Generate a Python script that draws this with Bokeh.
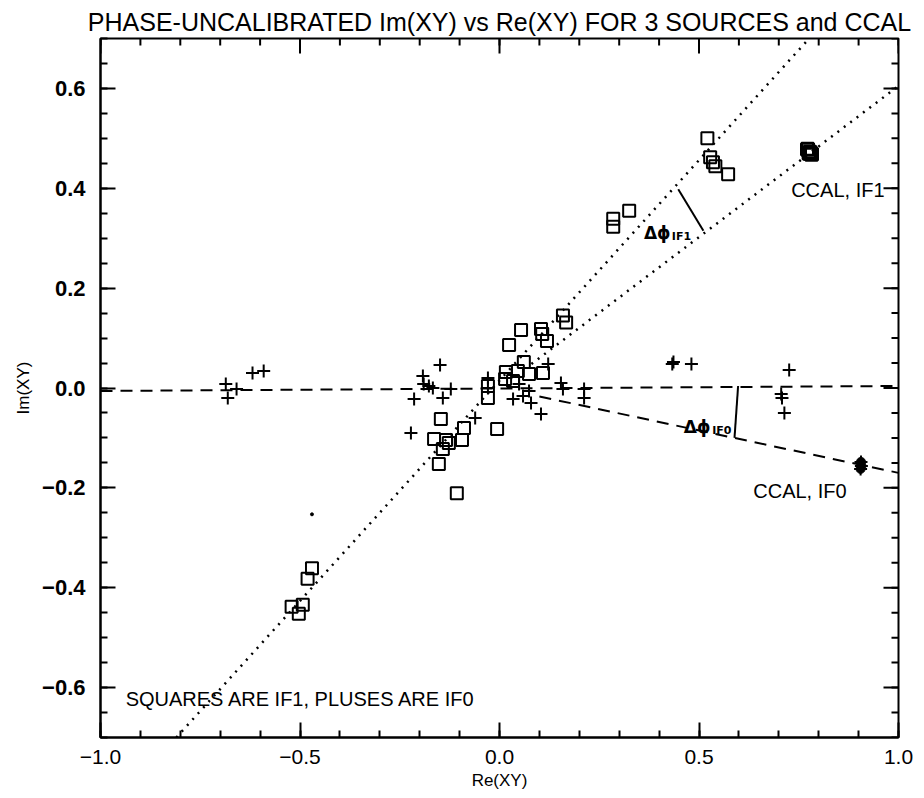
import math
from bokeh.plotting import figure
from bokeh.models import Range1d, FixedTicker, Label
from bokeh.embed import file_html
from bokeh.resources import INLINE

# ---------------- data ----------------
title_text = "PHASE-UNCALIBRATED Im(XY) vs Re(XY) FOR 3 SOURCES and CCAL"

x_major = [-1.0, -0.5, 0.0, 0.5, 1.0]
x_major_labels = ["\u22121.0", "\u22120.5", "0.0", "0.5", "1.0"]
x_minor = [-1.0, -0.9, -0.8, -0.7, -0.6, -0.5, -0.4, -0.3, -0.2, -0.1, 0.0,
           0.1, 0.2, 0.3, 0.4, 0.5, 0.6, 0.7, 0.8, 0.9, 1.0]
y_major = [-0.6, -0.4, -0.2, 0.0, 0.2, 0.4, 0.6]
y_major_labels = ["\u22120.6", "\u22120.4", "\u22120.2", "0.0", "0.2", "0.4", "0.6"]
y_minor = [-0.7, -0.65, -0.6, -0.55, -0.5, -0.45, -0.4, -0.35, -0.3, -0.25, -0.2,
           -0.15, -0.1, -0.05, 0.0, 0.05, 0.1, 0.15, 0.2, 0.25, 0.3, 0.35, 0.4,
           0.45, 0.5, 0.55, 0.6, 0.65, 0.7]

# squares = IF1 (sources)
sq_x = [0.521, 0.528, 0.535, 0.541, 0.573, 0.325, 0.285, 0.285,
        0.159, 0.167, 0.054, 0.104, 0.107, 0.119, 0.024, 0.061, 0.016, 0.046,
        0.074, 0.109, 0.034, 0.014, -0.029, -0.029, -0.147, -0.089, -0.006,
        -0.164, -0.134, -0.094, -0.142, -0.127, -0.152, -0.107,
        -0.470, -0.481, -0.521, -0.493, -0.503]
sq_y = [0.500, 0.462, 0.452, 0.444, 0.428, 0.355, 0.339, 0.323,
        0.145, 0.131, 0.116, 0.118, 0.108, 0.094, 0.086, 0.052, 0.032, 0.034,
        0.028, 0.030, 0.014, 0.018, 0.004, -0.020, -0.062, -0.080, -0.082,
        -0.102, -0.104, -0.104, -0.122, -0.110, -0.152, -0.211,
        -0.361, -0.382, -0.438, -0.434, -0.452]

# pluses = IF0 (sources)
pl_x = [-0.686, -0.681, -0.659, -0.619, -0.591,
        -0.149, -0.192, -0.190, -0.177, -0.167, -0.214, -0.142, -0.122, -0.222,
        -0.061, -0.029, -0.029, 0.034, 0.049, 0.059, 0.122, 0.074, 0.079, 0.104,
        0.154, 0.159, 0.212, 0.212,
        0.433, 0.436, 0.481, 0.726, 0.706, 0.708, 0.714]
pl_y = [0.008, -0.020, -0.002, 0.030, 0.034,
        0.046, 0.024, 0.008, 0.004, 0.000, -0.022, -0.020, -0.002, -0.090,
        -0.060, 0.020, 0.000, -0.022, 0.008, -0.016, 0.048, -0.006, -0.030, -0.052,
        0.010, -0.002, -0.002, -0.020,
        0.048, 0.052, 0.048, 0.036, -0.012, -0.020, -0.050]

# CCAL points
ccal1_x = [0.772, 0.778, 0.782, 0.776]
ccal1_y = [0.478, 0.472, 0.468, 0.470]
ccal0_x = [0.906, 0.907, 0.905]
ccal0_y = [-0.148, -0.156, -0.162]

stray_x = [-0.470]
stray_y = [-0.253]

# reference lines
if0_ref_x = [-1.0, 1.0]
if0_ref_y = [-0.006, 0.004]
if0_cal_x = [0.10, 1.0]
if0_cal_y = [-0.017, -0.170]
if1_ref_x = [-0.81, 0.776]
if1_ref_y = [-0.70, 0.70]
if1_cal_x = [0.08, 1.0]
if1_cal_y = [0.048, 0.605]
arc1_x = [0.448, 0.511]
arc1_y = [0.398, 0.315]
arc0_x = [0.598, 0.589]
arc0_y = [0.004, -0.100]

# ---------------- figure ----------------
FONT = "Liberation Sans"
XMIN, XMAX, YMIN, YMAX = -1.0, 1.0, -0.7, 0.7

p = figure(width=924, height=798, output_backend="svg", toolbar_location=None,
           x_range=Range1d(XMIN, XMAX), y_range=Range1d(YMIN, YMAX),
           x_axis_label="Re(XY)", y_axis_label="Im(XY)",
           min_border_left=100, min_border_right=26, min_border_top=38,
           min_border_bottom=61)
p.xgrid.visible = False
p.ygrid.visible = False
p.outline_line_color = "black"
p.outline_line_width = 2
p.background_fill_color = "white"
p.border_fill_color = "white"

p.title.text = title_text
p.title.align = "center"
p.title.text_font = FONT
p.title.text_font_size = "25px"
p.title.text_font_style = "normal"
p.title.text_color = "black"
p.title.standoff = 6

xt = FixedTicker(ticks=x_major, minor_ticks=x_minor)
yt = FixedTicker(ticks=y_major, minor_ticks=y_minor)

for ax, ticker in ((p.xaxis[0], xt), (p.yaxis[0], yt)):
    ax.ticker = ticker
    ax.axis_line_width = 2
    ax.axis_line_color = "black"
    ax.major_tick_in = 15
    ax.major_tick_out = 0
    ax.minor_tick_in = 7
    ax.minor_tick_out = 0
    ax.major_tick_line_width = 2
    ax.minor_tick_line_width = 2
    ax.major_tick_line_color = "black"
    ax.minor_tick_line_color = "black"
    ax.major_label_text_font = FONT
    ax.major_label_text_color = "black"
    ax.axis_label_text_font = FONT
    ax.axis_label_text_font_size = "17px"
    ax.axis_label_text_font_style = "normal"
    ax.axis_label_text_color = "black"

p.xaxis[0].major_label_overrides = {v: s for v, s in zip(x_major, x_major_labels)}
p.yaxis[0].major_label_overrides = {v: s for v, s in zip(y_major, y_major_labels)}
p.xaxis[0].major_label_text_font_size = "21px"
p.yaxis[0].major_label_text_font_size = "22px"
p.yaxis[0].major_label_text_font_style = "bold"
p.xaxis[0].major_label_standoff = 12
p.yaxis[0].major_label_standoff = 15
p.xaxis[0].axis_label_standoff = 4
p.yaxis[0].axis_label_standoff = 6

# inward ticks on top and right edges (markers are clipped to the frame)
p.scatter(x_major, [YMAX] * len(x_major), marker="dash", size=30, angle=math.pi / 2,
          line_color="black", line_width=2)
p.scatter(x_minor, [YMAX] * len(x_minor), marker="dash", size=14, angle=math.pi / 2,
          line_color="black", line_width=2)
p.scatter([XMAX] * len(y_major), y_major, marker="dash", size=30,
          line_color="black", line_width=2)
p.scatter([XMAX] * len(y_minor), y_minor, marker="dash", size=14,
          line_color="black", line_width=2)

# lines
p.line(if0_ref_x, if0_ref_y, line_color="black", line_width=2, line_dash="12 8")
p.line(if0_cal_x, if0_cal_y, line_color="black", line_width=2, line_dash="12 8")
p.line(if1_ref_x, if1_ref_y, line_color="black", line_width=2.5, line_dash="2 6")
p.line(if1_cal_x, if1_cal_y, line_color="black", line_width=2.5, line_dash="2 6")
p.line(arc1_x, arc1_y, line_color="black", line_width=2)
p.line(arc0_x, arc0_y, line_color="black", line_width=2)

# markers
p.scatter(sq_x, sq_y, marker="square", size=12, fill_color=None,
          line_color="black", line_width=2)
p.scatter(pl_x, pl_y, marker="cross", size=13, line_color="black", line_width=2)
p.scatter(ccal1_x, ccal1_y, marker="square", size=12, fill_color=None,
          line_color="black", line_width=3)
p.scatter(ccal0_x, ccal0_y, marker="circle", size=9, fill_color="black",
          line_color="black", line_width=1)
p.scatter(ccal0_x, ccal0_y, marker="cross", size=13, line_color="black", line_width=2)
p.scatter(stray_x, stray_y, marker="circle", size=3, fill_color="black",
          line_color="black")


# texts
def lab(x, y, t, size, font=FONT, style="normal"):
    p.add_layout(Label(x=x, y=y, text=t, text_font=font, text_font_size=size,
                       text_align="left", text_baseline="alphabetic",
                       text_font_style=style, text_color="black"))


lab(0.731, 0.396, "CCAL, IF1", "20px")
lab(0.636, -0.207, "CCAL, IF0", "20px")
lab(-0.937, -0.622, "SQUARES ARE IF1, PLUSES ARE IF0", "20px")
lab(0.362, 0.311, "\u0394\u03d5", "17px", font="DejaVu Sans", style="bold")
lab(0.432, 0.304, "IF1", "11px", font="DejaVu Sans", style="bold")
lab(0.462, -0.078, "\u0394\u03d5", "17px", font="DejaVu Sans", style="bold")
lab(0.533, -0.085, "IF0", "11px", font="DejaVu Sans", style="bold")

open("out.html", "w").write(file_html(p, INLINE))
